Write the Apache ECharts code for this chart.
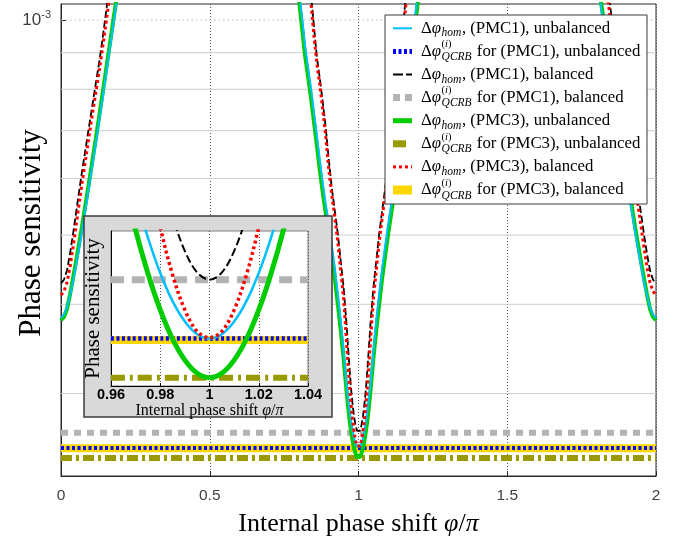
<!DOCTYPE html>
<html>
<head>
<meta charset="utf-8">
<script src="https://cdn.jsdelivr.net/npm/echarts@6/dist/echarts.min.js"></script>
<style>
  html, body { margin: 0; padding: 0; background: #fff; }
  #chart { width: 690px; height: 546px; }
</style>
</head>
<body>
<div id="chart"></div>
<script>
// ---- phase shift samples (units of pi) for the three visible branches ----
const phiLeft = [0, 0.01, 0.02, 0.03, 0.04, 0.05, 0.06, 0.07, 0.08, 0.09, 0.10,
  0.11, 0.12, 0.13, 0.14, 0.15, 0.16, 0.17, 0.18, 0.19, 0.20];
const phiWell = [0.78, 0.79, 0.80, 0.81, 0.82, 0.83, 0.84, 0.85, 0.86, 0.87, 0.88,
  0.89, 0.90, 0.91, 0.92, 0.93, 0.94, 0.95, 0.96, 0.965, 0.97, 0.975, 0.98, 0.985,
  0.99, 0.995, 1.0, 1.005, 1.01, 1.015, 1.02, 1.025, 1.03, 1.035, 1.04, 1.05, 1.06,
  1.07, 1.08, 1.09, 1.10, 1.11, 1.12, 1.13, 1.14, 1.15, 1.16, 1.17, 1.18, 1.19,
  1.20, 1.21, 1.22];
const phiRight = [1.80, 1.81, 1.82, 1.83, 1.84, 1.85, 1.86, 1.87, 1.88, 1.89, 1.90,
  1.91, 1.92, 1.93, 1.94, 1.95, 1.96, 1.97, 1.98, 1.99, 2.00];

// ---- homodyne phase sensitivity, (PMC1) unbalanced ----
const homPMC1UnbalLeft = [3.83e-4, 3.87e-4, 3.96e-4, 4.11e-4, 4.29e-4, 4.52e-4, 4.77e-4,
  5.05e-4, 5.36e-4, 5.69e-4, 6.05e-4, 6.43e-4, 6.85e-4, 7.30e-4, 7.78e-4, 8.30e-4,
  8.87e-4, 9.47e-4, 10.11e-4, 10.79e-4, 11.50e-4];
const homPMC1UnbalWell = [12.9e-4, 11.9e-4, 11.0e-4, 10.1e-4, 9.24e-4, 8.62e-4, 8.05e-4,
  7.45e-4, 6.90e-4, 6.36e-4, 5.91e-4, 5.53e-4, 5.19e-4, 4.84e-4, 4.51e-4, 4.15e-4,
  3.80e-4, 3.43e-4, 3.086e-4, 2.953e-4, 2.838e-4, 2.740e-4, 2.660e-4, 2.598e-4,
  2.554e-4, 2.527e-4, 2.518e-4, 2.527e-4, 2.554e-4, 2.598e-4, 2.660e-4, 2.740e-4,
  2.838e-4, 2.953e-4, 3.086e-4, 3.43e-4, 3.80e-4, 4.15e-4, 4.51e-4, 4.84e-4, 5.19e-4,
  5.53e-4, 5.91e-4, 6.36e-4, 6.90e-4, 7.45e-4, 8.05e-4, 8.62e-4, 9.24e-4, 10.1e-4,
  11.0e-4, 11.9e-4, 12.9e-4];
const homPMC1UnbalRight = [11.50e-4, 10.79e-4, 10.11e-4, 9.47e-4, 8.87e-4, 8.30e-4,
  7.78e-4, 7.30e-4, 6.85e-4, 6.43e-4, 6.05e-4, 5.69e-4, 5.36e-4, 5.05e-4, 4.77e-4,
  4.52e-4, 4.29e-4, 4.11e-4, 3.96e-4, 3.87e-4, 3.83e-4];

// ---- homodyne phase sensitivity, (PMC1) balanced ----
const homPMC1BalLeft = [4.28e-4, 4.33e-4, 4.46e-4, 4.70e-4, 5.00e-4, 5.35e-4, 5.72e-4,
  6.11e-4, 6.50e-4, 6.91e-4, 7.35e-4, 7.81e-4, 8.30e-4, 8.81e-4, 9.44e-4, 10.15e-4,
  10.92e-4, 11.7e-4, 12.5e-4, 13.4e-4, 14.3e-4];
const homPMC1BalWell = [19.0e-4, 17.3e-4, 15.8e-4, 14.4e-4, 13.1e-4, 11.95e-4, 10.9e-4,
  9.83e-4, 8.88e-4, 8.28e-4, 7.67e-4, 7.06e-4, 6.38e-4, 5.83e-4, 5.42e-4, 5.04e-4,
  4.61e-4, 4.22e-4, 3.74e-4, 3.48e-4, 3.25e-4, 3.045e-4, 2.901e-4, 2.789e-4,
  2.709e-4, 2.661e-4, 2.645e-4, 2.661e-4, 2.709e-4, 2.789e-4, 2.901e-4, 3.045e-4,
  3.25e-4, 3.48e-4, 3.74e-4, 4.22e-4, 4.61e-4, 5.04e-4, 5.42e-4, 5.83e-4, 6.38e-4,
  7.06e-4, 7.67e-4, 8.28e-4, 8.88e-4, 9.83e-4, 10.9e-4, 11.95e-4, 13.1e-4, 14.4e-4,
  15.8e-4, 17.3e-4, 19.0e-4];
const homPMC1BalRight = [14.3e-4, 13.4e-4, 12.5e-4, 11.7e-4, 10.92e-4, 10.15e-4, 9.44e-4,
  8.81e-4, 8.30e-4, 7.81e-4, 7.35e-4, 6.91e-4, 6.50e-4, 6.11e-4, 5.72e-4, 5.35e-4,
  5.00e-4, 4.70e-4, 4.46e-4, 4.33e-4, 4.28e-4];

// ---- homodyne phase sensitivity, (PMC3) unbalanced ----
const homPMC3UnbalLeft = [3.80e-4, 3.84e-4, 3.94e-4, 4.12e-4, 4.34e-4, 4.58e-4, 4.84e-4,
  5.12e-4, 5.44e-4, 5.77e-4, 6.14e-4, 6.53e-4, 6.95e-4, 7.41e-4, 7.90e-4, 8.43e-4,
  9.00e-4, 9.61e-4, 10.26e-4, 10.95e-4, 11.70e-4];
const homPMC3UnbalWell = [12.5e-4, 11.54e-4, 10.67e-4, 9.78e-4, 8.95e-4, 8.36e-4, 7.80e-4,
  7.22e-4, 6.68e-4, 6.16e-4, 5.73e-4, 5.36e-4, 5.03e-4, 4.69e-4, 4.37e-4, 4.02e-4,
  3.69e-4, 3.36e-4, 3.02e-4, 2.88e-4, 2.757e-4, 2.659e-4, 2.579e-4, 2.517e-4,
  2.473e-4, 2.446e-4, 2.437e-4, 2.446e-4, 2.473e-4, 2.517e-4, 2.579e-4, 2.659e-4,
  2.757e-4, 2.88e-4, 3.02e-4, 3.36e-4, 3.69e-4, 4.02e-4, 4.37e-4, 4.69e-4, 5.03e-4,
  5.36e-4, 5.73e-4, 6.16e-4, 6.68e-4, 7.22e-4, 7.80e-4, 8.36e-4, 8.95e-4, 9.78e-4,
  10.67e-4, 11.54e-4, 12.5e-4];
const homPMC3UnbalRight = [11.70e-4, 10.95e-4, 10.26e-4, 9.61e-4, 9.00e-4, 8.43e-4,
  7.90e-4, 7.41e-4, 6.95e-4, 6.53e-4, 6.14e-4, 5.77e-4, 5.44e-4, 5.12e-4, 4.84e-4,
  4.58e-4, 4.34e-4, 4.12e-4, 3.94e-4, 3.84e-4, 3.80e-4];

// ---- homodyne phase sensitivity, (PMC3) balanced ----
const homPMC3BalLeft = [4.12e-4, 4.17e-4, 4.29e-4, 4.50e-4, 4.79e-4, 5.13e-4, 5.49e-4,
  5.88e-4, 6.27e-4, 6.69e-4, 7.13e-4, 7.58e-4, 8.06e-4, 8.57e-4, 9.16e-4, 9.81e-4,
  10.53e-4, 11.3e-4, 12.1e-4, 13.0e-4, 13.9e-4];
const homPMC3BalWell = [18.7e-4, 17.0e-4, 15.5e-4, 14.1e-4, 12.8e-4, 11.65e-4, 10.6e-4,
  9.52e-4, 8.69e-4, 8.11e-4, 7.48e-4, 6.86e-4, 6.19e-4, 5.70e-4, 5.30e-4, 4.91e-4,
  4.47e-4, 4.07e-4, 3.53e-4, 3.29e-4, 3.071e-4, 2.902e-4, 2.764e-4, 2.656e-4,
  2.579e-4, 2.533e-4, 2.52e-4, 2.533e-4, 2.579e-4, 2.656e-4, 2.764e-4, 2.902e-4,
  3.071e-4, 3.29e-4, 3.53e-4, 4.07e-4, 4.47e-4, 4.91e-4, 5.30e-4, 5.70e-4, 6.19e-4,
  6.86e-4, 7.48e-4, 8.11e-4, 8.69e-4, 9.52e-4, 10.6e-4, 11.65e-4, 12.8e-4, 14.1e-4,
  15.5e-4, 17.0e-4, 18.7e-4];
const homPMC3BalRight = [13.9e-4, 13.0e-4, 12.1e-4, 11.3e-4, 10.53e-4, 9.81e-4, 9.16e-4,
  8.57e-4, 8.06e-4, 7.58e-4, 7.13e-4, 6.69e-4, 6.27e-4, 5.88e-4, 5.49e-4, 5.13e-4,
  4.79e-4, 4.50e-4, 4.29e-4, 4.17e-4, 4.12e-4];

// ---- quantum Cramer-Rao bounds (flat in phi) ----
const qcrbPMC1Unbal = 2.518e-4;
const qcrbPMC1Bal = 2.645e-4;
const qcrbPMC3Unbal = 2.437e-4;
const qcrbPMC3Bal = 2.515e-4;

// ---- axes ----
const phiRange = [0, 2];
const phiTicks = 0.5;
const insetPhiRange = [0.96, 1.04];
const insetPhiTicks = 0.02;
const sensRange = [2.3e-4, 1.053e-3];
const insetSensRange = [2.42e-4, 2.755e-4];
const majorGrid = [1e-3];
const minorGrid = [9e-4, 8e-4, 7e-4, 6e-4, 5e-4, 4e-4, 3e-4];

const SERIF = '"Liberation Serif", "Times New Roman", serif';
const SANS = '"Liberation Sans", Arial, Helvetica, sans-serif';

const styles = {
  pmc1UnbalHom: { color: '#00bfff', width: 2, dash: null, inWidth: 2.5 },
  pmc1UnbalQcrb: { color: '#0000ff', width: 4, dash: [3, 2.5], inWidth: 4.5, inDash: [3, 2.5] },
  pmc1BalHom: { color: '#000000', width: 1.8, dash: [7, 3], inWidth: 2, inDash: [8, 3.5], legDash: [10, 3] },
  pmc1BalQcrb: { color: '#b3b3b3', width: 6, dash: [7, 6], inWidth: 7, inDash: [13, 8], legDash: [7, 5] },
  pmc3UnbalHom: { color: '#00cc00', width: 4, dash: null, inWidth: 5 },
  pmc3UnbalQcrb: { color: '#999900', width: 6, dash: [11, 4, 3, 4], inWidth: 6, inDash: [14, 5, 3, 5], legDash: null, legEnd: 406 },
  pmc3BalHom: { color: '#ff0000', width: 3, dash: [3, 3], inWidth: 3.5, inDash: [3, 3] },
  pmc3BalQcrb: { color: '#ffd700', width: 8, dash: null, inWidth: 8 }
};

const pairs = (xs, ys) => xs.map((x, i) => [x, ys[i]]);
const fullCurve = (l, w, r) => pairs(phiLeft, l).concat([[0.5, null]], pairs(phiWell, w),
  [[1.5, null]], pairs(phiRight, r));

function curve(name, data, st, axis, z, inset) {
  return {
    name, type: 'line', data, xAxisIndex: axis, yAxisIndex: axis,
    showSymbol: false, symbol: 'none', silent: true, z, clip: true,
    smooth: inset ? 0.35 : false, connectNulls: false,
    lineStyle: {
      color: st.color,
      width: inset ? st.inWidth : st.width,
      type: (inset ? st.inDash : st.dash) || 'solid',
      cap: 'butt'
    },
    emphasis: { disabled: true }
  };
}

const series = [];
// light horizontal grid lines of the main panel
minorGrid.forEach(v => series.push({
  type: 'line', data: phiRange.map(x => [x, v]), xAxisIndex: 0, yAxisIndex: 0,
  showSymbol: false, symbol: 'none', silent: true, z: 1,
  lineStyle: { color: '#cdcdcd', width: 1, type: 'solid' }, emphasis: { disabled: true }
}));
majorGrid.forEach(v => series.push({
  type: 'line', data: phiRange.map(x => [x, v]), xAxisIndex: 0, yAxisIndex: 0,
  showSymbol: false, symbol: 'none', silent: true, z: 1,
  lineStyle: { color: '#b8b8b8', width: 1, type: [1.5, 3] }, emphasis: { disabled: true }
}));

const bounds = [
  ['PMC3 balanced QCRB', qcrbPMC3Bal, styles.pmc3BalQcrb, 2],
  ['PMC3 unbalanced QCRB', qcrbPMC3Unbal, styles.pmc3UnbalQcrb, 3],
  ['PMC1 balanced QCRB', qcrbPMC1Bal, styles.pmc1BalQcrb, 3],
  ['PMC1 unbalanced QCRB', qcrbPMC1Unbal, styles.pmc1UnbalQcrb, 4]
];
const homCurves = [
  ['PMC3 unbalanced hom', homPMC3UnbalLeft, homPMC3UnbalWell, homPMC3UnbalRight, styles.pmc3UnbalHom, 5],
  ['PMC1 unbalanced hom', homPMC1UnbalLeft, homPMC1UnbalWell, homPMC1UnbalRight, styles.pmc1UnbalHom, 6],
  ['PMC1 balanced hom', homPMC1BalLeft, homPMC1BalWell, homPMC1BalRight, styles.pmc1BalHom, 7],
  ['PMC3 balanced hom', homPMC3BalLeft, homPMC3BalWell, homPMC3BalRight, styles.pmc3BalHom, 8]
];

// main panel
bounds.forEach(([n, v, st, z]) => series.push(curve(n, phiRange.map(x => [x, v]), st, 0, z, false)));
homCurves.forEach(([n, l, w, r, st, z]) => series.push(curve(n, fullCurve(l, w, r), st, 0, z, false)));
// inset around phi = pi
bounds.forEach(([n, v, st, z]) => series.push(curve(n + ' (inset)', insetPhiRange.map(x => [x, v]), st, 1, z + 12, true)));
homCurves.forEach(([n, l, w, r, st, z]) => series.push(curve(n + ' (inset)', pairs(phiWell, w), st, 1, z + 12, true)));

// ---- legend drawn as graphic text so the stacked super/subscripts fit ----
const measureCtx = document.createElement('canvas').getContext('2d');
function fontOf(size, italic) { return (italic ? 'italic ' : '') + size + 'px ' + SERIF; }
function widthOf(str, size, italic) { measureCtx.font = fontOf(size, italic); return measureCtx.measureText(str).width; }

const legendEntries = [
  { kind: 'hom', pmc: 'PMC1', bal: 'unbalanced', st: styles.pmc1UnbalHom },
  { kind: 'qcrb', pmc: 'PMC1', bal: 'unbalanced', st: styles.pmc1UnbalQcrb },
  { kind: 'hom', pmc: 'PMC1', bal: 'balanced', st: styles.pmc1BalHom },
  { kind: 'qcrb', pmc: 'PMC1', bal: 'balanced', st: styles.pmc1BalQcrb },
  { kind: 'hom', pmc: 'PMC3', bal: 'unbalanced', st: styles.pmc3UnbalHom },
  { kind: 'qcrb', pmc: 'PMC3', bal: 'unbalanced', st: styles.pmc3UnbalQcrb },
  { kind: 'hom', pmc: 'PMC3', bal: 'balanced', st: styles.pmc3BalHom },
  { kind: 'qcrb', pmc: 'PMC3', bal: 'balanced', st: styles.pmc3BalQcrb }
];
const LEG = { x: 385, y: 15, w: 262, h: 189, row0: 28.3, dy: 23.1, ix0: 393, ix1: 412, tx: 421, size: 16.8, small: 11.5 };
const graphics = [];
// inset panel
graphics.push({ type: 'rect', z: 10, silent: true,
  shape: { x: 84, y: 216, width: 248, height: 201 },
  style: { fill: '#d9d9d9', stroke: '#3a3a3a', lineWidth: 1.5 } });
graphics.push({ type: 'rect', z: 20, silent: true,
  shape: { x: LEG.x, y: LEG.y, width: LEG.w, height: LEG.h },
  style: { fill: '#ffffff', stroke: '#3a3a3a', lineWidth: 1 } });
legendEntries.forEach((e, i) => {
  const cy = LEG.row0 + i * LEG.dy;
  const st = e.st;
  graphics.push({ type: 'line', z: 21, silent: true,
    shape: { x1: LEG.ix0, y1: cy, x2: st.legEnd || LEG.ix1, y2: cy },
    style: { stroke: st.color, lineWidth: st.width + (st.width >= 4 ? 1 : 0),
      lineDash: st.legDash !== undefined ? st.legDash : st.dash, lineCap: 'butt' } });
  let x = LEG.tx;
  const put = (str, size, italic, dy, at) => {
    const px = at !== undefined ? at : x;
    graphics.push({ type: 'text', z: 21, silent: true, x: px, y: cy + dy,
      style: { text: str, font: fontOf(size, italic), fill: '#000',
        align: 'left', verticalAlign: 'middle' } });
    return widthOf(str, size, italic);
  };
  x += put('Δ', LEG.size, false, 0);
  x += put('φ', LEG.size, true, 0) + 0.5;
  if (e.kind === 'hom') {
    x += put('hom', LEG.small, true, 5) + 0.5;
    put(', (' + e.pmc + '), ' + e.bal, LEG.size, false, 0);
  } else {
    let sx = x;
    sx += put('(', LEG.small - 1, false, -7, sx);
    sx += put('i', LEG.small - 1, true, -7, sx);
    sx += put(')', LEG.small - 1, false, -7, sx);
    const wq = put('QCRB', LEG.small, true, 5.5, x);
    x += Math.max(sx - x, wq) + 1;
    put(' for (' + e.pmc + '), ' + e.bal, LEG.size, false, 0);
  }
});

const option = {
  animation: false,
  backgroundColor: '#ffffff',
  grid: [
    { left: 61, top: 4, width: 595, height: 472, show: true, z: 0, containLabel: false,
      outerBoundsMode: 'none',
      borderColor: '#2b2b2b', borderWidth: 1, backgroundColor: 'rgba(0,0,0,0)' },
    { left: 111, top: 231, width: 197, height: 155, show: true, z: 11, containLabel: false,
      outerBoundsMode: 'none',
      borderColor: '#7f7f7f', borderWidth: 1, backgroundColor: '#ffffff' }
  ],
  xAxis: [
    { gridIndex: 0, type: 'value', min: phiRange[0], max: phiRange[1], interval: phiTicks,
      name: '{r|Internal phase shift }{i|φ}{r|/}{i|π}', nameLocation: 'middle', nameGap: 35,
      nameMoveOverlap: false,
      nameTextStyle: { color: '#000', fontFamily: SERIF, fontSize: 26,
        rich: { r: { fontFamily: SERIF, fontSize: 26, color: '#000' },
                i: { fontFamily: SERIF, fontSize: 26, fontStyle: 'italic', color: '#000' } } },
      axisLine: { show: true, lineStyle: { color: '#262626', width: 1 } },
      axisTick: { show: true, inside: true, length: 5, lineStyle: { color: '#262626' } },
      axisLabel: { color: '#404040', fontFamily: SANS, fontSize: 15.5, margin: 12 },
      splitLine: { show: true, lineStyle: { color: '#555555', width: 1, type: [1, 2] } } },
    { gridIndex: 1, type: 'value', min: insetPhiRange[0], max: insetPhiRange[1], interval: insetPhiTicks, z: 12,
      name: '{r|Internal phase shift }{i|φ}{r|/}{i|π}', nameLocation: 'middle', nameGap: 17,
      nameMoveOverlap: false,
      nameTextStyle: { color: '#000', fontFamily: SERIF, fontSize: 16,
        rich: { r: { fontFamily: SERIF, fontSize: 16, color: '#000' },
                i: { fontFamily: SERIF, fontSize: 16, fontStyle: 'italic', color: '#000' } } },
      axisLine: { show: true, lineStyle: { color: '#000', width: 1 } },
      axisTick: { show: true, inside: true, length: 3, lineStyle: { color: '#000' } },
      axisLabel: { color: '#000', fontFamily: SANS, fontSize: 14.5, fontWeight: 'bold', margin: 1 },
      splitLine: { show: true, lineStyle: { color: '#555555', width: 1, type: [1, 2] } } }
  ],
  yAxis: [
    { gridIndex: 0, type: 'log', logBase: 10, min: sensRange[0], max: sensRange[1],
      name: 'Phase sensitivity', nameLocation: 'middle', nameGap: 14, nameMoveOverlap: false,
      nameTextStyle: { color: '#000', fontFamily: SERIF, fontSize: 31, padding: [0, 0, 0, 14] },
      axisLine: { show: true, lineStyle: { color: '#262626', width: 1 } },
      axisTick: { show: true, inside: true, length: 5, lineStyle: { color: '#262626' } },
      axisLabel: { margin: 10, showMinLabel: false, showMaxLabel: false,
        formatter: v => (Math.abs(Math.log10(v) + 3) < 1e-6 ? '{b|10}{s|-3}' : ''),
        rich: { b: { fontFamily: SANS, fontSize: 17, color: '#404040' },
                s: { fontFamily: SANS, fontSize: 11, color: '#404040', padding: [0, 0, 10, 0] } } },
      splitLine: { show: false } },
    { gridIndex: 1, type: 'log', logBase: 10, min: insetSensRange[0], max: insetSensRange[1], z: 12,
      name: 'Phase sensitivity', nameLocation: 'middle', nameGap: 7, nameMoveOverlap: false,
      nameTextStyle: { color: '#000', fontFamily: SERIF, fontSize: 21 },
      axisLine: { show: true, lineStyle: { color: '#000', width: 1 } },
      axisTick: { show: false }, axisLabel: { show: false }, splitLine: { show: false } }
  ],
  graphic: graphics,
  series
};

const chart = echarts.init(document.getElementById('chart'), null, { renderer: 'canvas', devicePixelRatio: 1 });
chart.setOption(option);
</script>
</body>
</html>
